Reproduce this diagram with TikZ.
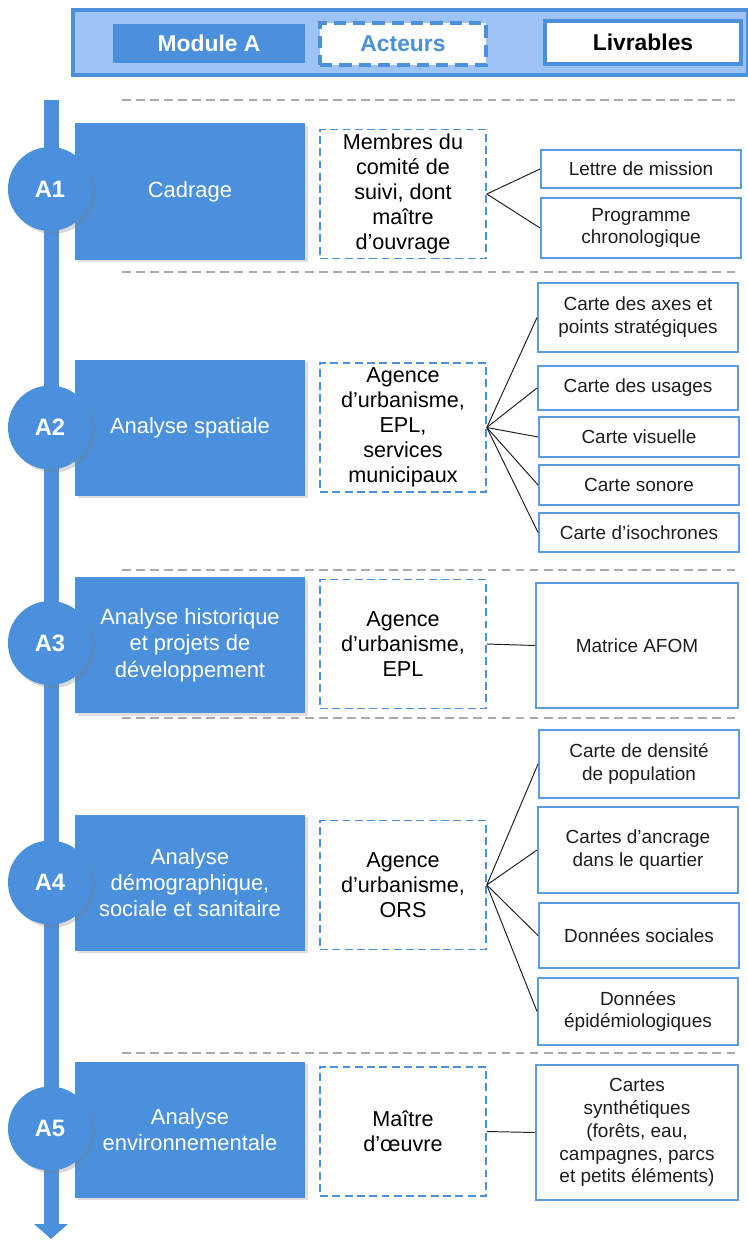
\documentclass[tikz,border=0pt]{standalone}
\usepackage{fontspec}
\setmainfont{Liberation Sans}
\usetikzlibrary{arrows.meta,shadows}

\definecolor{ModuleColor}{RGB}{74,144,220}
\definecolor{HeaderColor}{RGB}{157,195,245}
\definecolor{LivrableColor}{RGB}{91,155,224}
\definecolor{SeparatorColor}{RGB}{170,170,170}
\definecolor{TextColor}{RGB}{30,30,30}

\tikzstyle{mod-base}=[rectangle,
                      inner sep=0pt,
                      text centered,
                      align=center,
                     ]
\tikzstyle{etape}=[mod-base,
                   fill={ModuleColor},
                   text=white,
                   font=\fontsize{12.5}{15}\selectfont,
                   minimum width=4.6cm,
                   minimum height=2.72cm,
                   drop shadow={opacity=0.25,shadow xshift=0.05cm,shadow yshift=-0.05cm}]
\tikzstyle{acteur}=[mod-base,
                    fill=white,
                    draw={ModuleColor},
                    line width=0.9pt,
                    dash pattern=on 4.5pt off 2.5pt,
                    text=black,
                    font=\fontsize{12.3}{14.2}\selectfont,
                    minimum width=3.32cm,
                    minimum height=2.58cm]
\tikzstyle{livrable}=[mod-base,
                      fill=white,
                      draw={LivrableColor},
                      line width=1.1pt,
                      text={TextColor},
                      font=\fontsize{10.8}{13}\selectfont,
                      minimum width=4.0cm]
\tikzstyle{jalon}=[circle,
                   fill={ModuleColor},
                   text=white,
                   inner sep=0pt,
                   minimum size=1.68cm,
                   font=\bfseries\fontsize{13.5}{16}\selectfont,
                   drop shadow={opacity=0.3,shadow xshift=0.06cm,shadow yshift=-0.06cm}]
\tikzstyle{separateur}=[draw={SeparatorColor}, line width=1.2pt, dash pattern=on 5pt off 3pt]
\tikzstyle{lien}=[draw={TextColor}, line width=0.55pt]

\begin{document}
\begin{tikzpicture}
\useasboundingbox (0cm, 0cm) rectangle (14.96cm, -24.8cm);

% en-tete
\node at (8.21cm, -0.85cm) (entete)    [mod-base, fill={HeaderColor}, draw={ModuleColor}, line width=2pt,
                                        minimum width=13.5cm, minimum height=1.3cm] {};
\node at (4.18cm, -0.87cm) (t_module)  [mod-base, fill={ModuleColor}, text=white, minimum width=3.84cm,
                                        minimum height=0.78cm, font=\bfseries\fontsize{13}{15}\selectfont] {Module A};
\node at (8.06cm, -0.88cm) (t_acteurs) [mod-base, fill=white, draw={ModuleColor}, line width=1.8pt,
                                        dash pattern=on 7pt off 4pt, text={ModuleColor}, minimum width=3.32cm,
                                        minimum height=0.84cm, font=\bfseries\fontsize{13}{15}\selectfont] {Acteurs};
\node at (12.86cm, -0.85cm) (t_livrables) [mod-base, fill=white, draw={ModuleColor}, line width=2pt,
                                        text=black, minimum width=3.92cm, minimum height=0.86cm,
                                        font=\bfseries\fontsize{13}{15}\selectfont] {Livrables};

% separateurs
\draw[separateur] (2.44cm,  -2.0cm)  -- (14.8cm,  -2.0cm);
\draw[separateur] (2.44cm,  -5.44cm) -- (14.8cm,  -5.44cm);
\draw[separateur] (2.44cm, -11.4cm)  -- (14.8cm, -11.4cm);
\draw[separateur] (2.44cm, -14.36cm) -- (14.8cm, -14.36cm);
\draw[separateur] (2.44cm, -21.06cm) -- (14.8cm, -21.06cm);

% axe du temps
\coordinate (axe_debut) at (1.02cm,  -2.0cm);
\coordinate (axe_fin)   at (1.02cm, -24.78cm);
\draw[draw={ModuleColor}, line width=0.3cm, -{Triangle[width=0.66cm,length=0.3cm]}] (axe_debut) -- (axe_fin);

% etapes
\node at (3.8cm,  -3.83cm) (etape1) [etape] {Cadrage};
\node at (3.8cm,  -8.55cm) (etape2) [etape] {Analyse spatiale};
\node at (3.8cm, -12.9cm)  (etape3) [etape] {Analyse historique\\et projets de\\développement};
\node at (3.8cm, -17.65cm) (etape4) [etape] {Analyse\\démographique,\\sociale et sanitaire};
\node at (3.8cm, -22.59cm) (etape5) [etape] {Analyse\\environnementale};

\node at (1.0cm,  -3.78cm) (jalon1) [jalon] {A1};
\node at (1.0cm,  -8.55cm) (jalon2) [jalon] {A2};
\node at (1.0cm, -12.86cm) (jalon3) [jalon] {A3};
\node at (1.0cm, -17.65cm) (jalon4) [jalon] {A4};
\node at (1.0cm, -22.57cm) (jalon5) [jalon] {A5};

% acteurs
\node at (8.06cm,  -3.88cm) (acteur1) [acteur] {Membres du\\comité de\\suivi, dont\\maître\\d’ouvrage};
\node at (8.06cm,  -8.55cm) (acteur2) [acteur] {Agence\\d’urbanisme,\\EPL,\\services\\municipaux};
\node at (8.06cm, -12.88cm) (acteur3) [acteur] {Agence\\d’urbanisme,\\EPL};
\node at (8.06cm, -17.7cm)  (acteur4) [acteur] {Agence\\d’urbanisme,\\ORS};
\node at (8.06cm, -22.63cm) (acteur5) [acteur] {Maître\\d’œuvre};

% livrables
\node at (12.82cm,  -3.38cm) (livrable11) [livrable, minimum height=0.76cm] {Lettre de mission};
\node at (12.82cm,  -4.56cm) (livrable12) [livrable, minimum height=1.2cm]  {Programme\\chronologique};
\node at (12.76cm,  -6.35cm) (livrable21) [livrable, minimum height=1.38cm] {Carte des axes et\\points stratégiques};
\node at (12.76cm,  -7.76cm) (livrable22) [livrable, minimum height=0.88cm] {Carte des usages};
\node at (12.78cm,  -8.74cm) (livrable23) [livrable, minimum height=0.8cm]  {Carte visuelle};
\node at (12.78cm,  -9.7cm)  (livrable24) [livrable, minimum height=0.8cm]  {Carte sonore};
\node at (12.78cm, -10.65cm) (livrable25) [livrable, minimum height=0.78cm] {Carte d’isochrones};
\node at (12.74cm, -12.91cm) (livrable31) [livrable, minimum height=2.5cm, minimum width=4.04cm] {Matrice AFOM};
\node at (12.78cm, -15.28cm) (livrable41) [livrable, minimum height=1.36cm] {Carte de densité\\de population};
\node at (12.76cm, -17.0cm)  (livrable42) [livrable, minimum height=1.72cm] {Cartes d’ancrage\\dans le quartier};
\node at (12.78cm, -18.71cm) (livrable43) [livrable, minimum height=1.3cm]  {Données sociales};
\node at (12.76cm, -20.23cm) (livrable44) [livrable, minimum height=1.34cm] {Données\\épidémiologiques};
\node at (12.74cm, -22.65cm) (livrable51) [livrable, minimum height=2.7cm, minimum width=4.04cm] {Cartes\\synthétiques\\(forêts, eau,\\campagnes, parcs\\et petits éléments)};

% liens
\draw[lien] (acteur1.east) -- (livrable11.west);
\draw[lien] (acteur1.east) -- (livrable12.west);
\draw[lien] (acteur2.east) -- (livrable21.west);
\draw[lien] (acteur2.east) -- (livrable22.west);
\draw[lien] (acteur2.east) -- (livrable23.west);
\draw[lien] (acteur2.east) -- (livrable24.west);
\draw[lien] (acteur2.east) -- (livrable25.west);
\draw[lien] (acteur3.east) -- (livrable31.west);
\draw[lien] (acteur4.east) -- (livrable41.west);
\draw[lien] (acteur4.east) -- (livrable42.west);
\draw[lien] (acteur4.east) -- (livrable43.west);
\draw[lien] (acteur4.east) -- (livrable44.west);
\draw[lien] (acteur5.east) -- (livrable51.west);
\end{tikzpicture}
\end{document}
